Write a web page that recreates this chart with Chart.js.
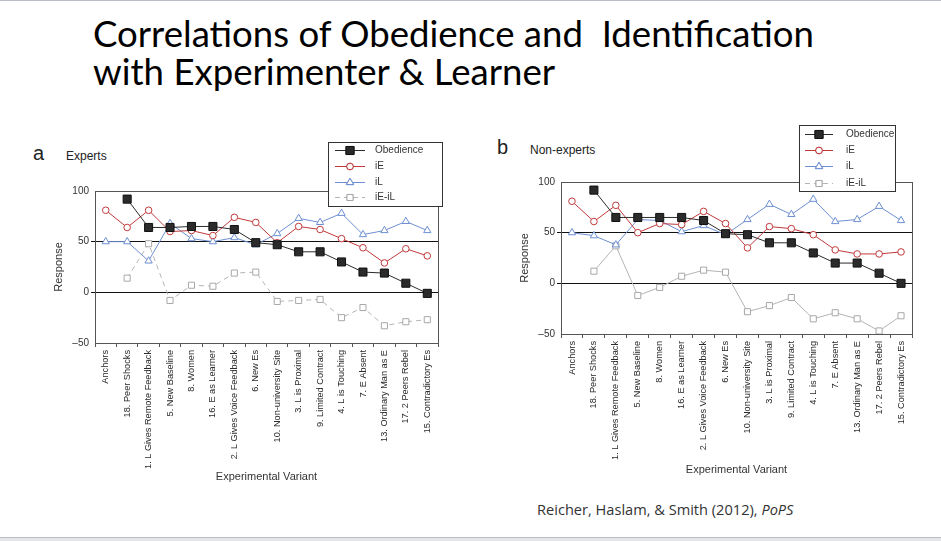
<!DOCTYPE html>
<html>
<head>
<meta charset="utf-8">
<script src="https://cdn.jsdelivr.net/npm/chart.js@4.4.1/dist/chart.umd.min.js"></script>
<style>
  body { margin: 0; background: #fff; width: 941px; height: 541px; position: relative; overflow: hidden; }
  .abs { position: absolute; white-space: nowrap; }
  #title { left: 93px; top: 14px; font-family: Lato, "Open Sans", sans-serif; font-size: 36.6px; line-height: 38px; color: #000; }
  .panel { font-family: "Liberation Sans Narrow", "Liberation Sans", Arial, sans-serif; color: #222; }
  .letter { font-family: "Liberation Sans", Arial, sans-serif; font-size: 20px; color: #222; }
  #cite { left: 537px; top: 499px; font-family: "Open Sans", "Noto Sans", sans-serif; font-size: 14.6px; color: #333; }
  canvas { position: absolute; }
  #topline { left: 0; top: 0; width: 941px; height: 1px; background: #b8bcc4; }
  #botline { left: 0; top: 537px; width: 941px; height: 4px; background: #e4e6ea; border-top: 1px solid #b8bcc4; }
</style>
</head>
<body>
<div id="topline" class="abs"></div>
<div id="title" class="abs">Correlations of Obedience and&nbsp; Identification<br>with Experimenter &amp; Learner</div>
<div class="abs letter" style="left:33px; top:142px;">a</div>
<div class="abs panel" style="left:66px; top:149px; font-size:12px;">Experts</div>
<div class="abs letter" style="left:497px; top:136px;">b</div>
<div class="abs panel" style="left:530px; top:143px; font-size:12px;">Non-experts</div>
<canvas id="chartA" width="410" height="360" style="left:45px; top:130px; width:410px; height:360px;"></canvas>
<canvas id="chartB" width="420" height="364" style="left:510px; top:115px; width:420px; height:364px;"></canvas>
<div id="cite" class="abs">Reicher, Haslam, &amp; Smith (2012), <i>PoPS</i></div>
<div id="botline" class="abs"></div>
<script>
// ---- data ----
const variants = [
  'Anchors', '18. Peer Shocks', '1. L Gives Remote Feedback', '5. New Baseline', '8. Women',
  '16. E as Learner', '2. L Gives Voice Feedback', '6. New Es', '10. Non-university Site',
  '3. L is Proximal', '9. Limited Contract', '4. L is Touching', '7. E Absent',
  '13. Ordinary Man as E', '17. 2 Peers Rebel', '15. Contradictory Es'
];
const yTicks = [-50, 0, 50, 100];
const seriesNames = ['Obedience', 'iE', 'iL', 'iE-iL'];

// Experts (panel a)
const expObedience = [null, 92, 64, 64, 65, 65, 62, 49, 47, 40, 40, 30, 20, 19, 9, -1];
const expIE        = [81, 64, 81, 60, 61, 56, 74, 69, 49, 65, 62, 53, 44, 29, 43, 36];
const expIL        = [50, 50, 31, 68, 53, 50, 54, 47, 58, 73, 69, 78, 57, 61, 70, 61];
const expDiff      = [null, 14, 48, -8, 7, 6, 19, 20, -9, -8, -7, -25, -15, -33, -29, -27];

// Non-experts (panel b)
const nonObedience = [null, 92, 65, 65, 65, 65, 62, 49, 48, 40, 40, 30, 20, 20, 10, 0];
const nonIE        = [81, 61, 77, 50, 59, 58, 71, 59, 35, 56, 54, 48, 33, 29, 29, 31];
const nonIL        = [50, 47, 38, 63, 62, 51, 57, 48, 63, 78, 68, 83, 61, 63, 76, 62];
const nonDiff      = [null, 12, 37, -12, -4, 7, 13, 11, -28, -22, -14, -35, -29, -35, -47, -32];

const colors = {
  obedience: '#2b2b2b',
  iE: '#c0393a',
  iL: '#6d8fd1',
  diff: '#b4b4b4'
};
const axisFont = "'Liberation Sans Narrow', 'Liberation Sans', Arial, sans-serif";

function makeDatasets(obed, ie, il, diff, diffDashed) {
  return [
    { label: seriesNames[0], data: obed, borderColor: colors.obedience, backgroundColor: colors.obedience,
      borderWidth: 1, pointStyle: 'rect', pointRadius: 5.7, pointBorderColor: '#111', pointBorderWidth: 1 },
    { label: seriesNames[1], data: ie, borderColor: colors.iE, backgroundColor: '#fff',
      borderWidth: 1, pointStyle: 'circle', pointRadius: 3.3, pointBorderColor: colors.iE, pointBorderWidth: 1 },
    { label: seriesNames[2], data: il, borderColor: colors.iL, backgroundColor: '#fff',
      borderWidth: 1, pointStyle: 'triangle', pointRadius: 4.2, pointBorderColor: colors.iL, pointBorderWidth: 1 },
    { label: seriesNames[3], data: diff, borderColor: colors.diff, backgroundColor: '#fff',
      borderWidth: 1, borderDash: diffDashed ? [5, 4] : [], pointStyle: 'rect', pointRadius: 4.3,
      pointBorderColor: '#a8a8a8', pointBorderWidth: 1 }
  ].map(d => Object.assign(d, { tension: 0, spanGaps: false, fill: false }));
}

// frame around the plot + boxed legend with line/marker samples
const framePlugin = {
  id: 'frame',
  beforeDatasetsDraw(chart) {
    const { ctx, chartArea: a } = chart;
    ctx.save();
    ctx.strokeStyle = '#555';
    ctx.lineWidth = 1;
    ctx.strokeRect(Math.round(a.left) + 0.5, Math.round(a.top) + 0.5, Math.round(a.right - a.left), Math.round(a.bottom - a.top));
    ctx.restore();
  },
  afterDraw(chart, args, opts) {
    const { ctx } = chart;
    const b = opts.box;
    ctx.save();
    ctx.fillStyle = '#fff';
    ctx.fillRect(b.x, b.y, b.w, b.h);
    ctx.strokeStyle = '#333';
    ctx.lineWidth = 1;
    ctx.strokeRect(b.x + 0.5, b.y + 0.5, b.w, b.h);
    ctx.font = '10px ' + axisFont;
    ctx.textBaseline = 'middle';
    chart.data.datasets.forEach((ds, i) => {
      const y = b.y + opts.rows[i];
      ctx.strokeStyle = ds.borderColor;
      ctx.setLineDash(i === 3 ? [5, 4] : []);
      ctx.beginPath();
      ctx.moveTo(b.x + opts.lineX0, y + 0.5);
      ctx.lineTo(b.x + opts.lineX1, y + 0.5);
      ctx.stroke();
      ctx.setLineDash([]);
      Chart.helpers.drawPoint(ctx, {
        pointStyle: ds.pointStyle, radius: ds.pointRadius, borderWidth: 1
      }, b.x + (opts.lineX0 + opts.lineX1) / 2, y + 0.5);
      ctx.fillStyle = ds.backgroundColor;
      ctx.strokeStyle = ds.pointBorderColor;
      ctx.fill();
      ctx.stroke();
      ctx.fillStyle = '#333';
      ctx.fillText(ds.label, b.x + opts.textX, y);
    });
    ctx.restore();
  }
};

function buildChart(id, datasets, layout) {
  return new Chart(document.getElementById(id), {
    type: 'line',
    data: { labels: variants, datasets: datasets },
    plugins: [framePlugin],
    options: {
      responsive: false,
      animation: false,
      layout: { padding: { top: layout.top, right: layout.right, left: layout.left, bottom: 0 } },
      plugins: {
        legend: { display: false },
        tooltip: { enabled: false },
        frame: { box: layout.legend, rows: layout.rows, lineX0: layout.lineX0, lineX1: layout.lineX1, textX: layout.textX }
      },
      scales: {
        x: {
          offset: true,
          afterFit(s) { s.height = layout.xHeight; },
          grid: { offset: true, drawOnChartArea: false, drawTicks: true, tickLength: 4, color: '#555' },
          border: { display: false },
          ticks: { autoSkip: false, maxRotation: 90, minRotation: 90, color: '#2a2a2a', padding: 3,
                   font: { family: axisFont, size: 9.2 } },
          title: { display: true, text: 'Experimental Variant', color: '#333',
                   font: { family: axisFont, size: 11 }, padding: { top: 4, bottom: layout.titlePad } }
        },
        y: {
          min: -50, max: 100,
          afterFit(s) { s.width = layout.yWidth; },
          afterBuildTicks(s) { s.ticks = yTicks.map(v => ({ value: v })); },
          grid: {
            drawTicks: true, tickLength: 4,
            color: ctx => (ctx.tick && (ctx.tick.value === 0 || ctx.tick.value === 50)) ? '#111' : 'rgba(0,0,0,0)',
            lineWidth: 1
          },
          border: { display: false },
          ticks: { color: '#333', padding: 2, font: { family: axisFont, size: 10 },
                   callback: v => (v < 0 ? '\u2013' + Math.abs(v) : String(v)) },
          title: { display: true, text: 'Response', color: '#333',
                   font: { family: axisFont, size: 11 }, padding: { top: 0, bottom: 4 } }
        }
      }
    }
  });
}

buildChart('chartA', makeDatasets(expObedience, expIE, expIL, expDiff, true), {
  top: 61, right: 17, left: 7, yWidth: 43, xHeight: 147, titlePad: 6,
  legend: { x: 283, y: 12, w: 114, h: 64 },
  rows: [8, 24, 40, 55], lineX0: 7, lineX1: 37, textX: 47
});

buildChart('chartB', makeDatasets(nonObedience, nonIE, nonIL, nonDiff, false), {
  top: 67, right: 18, left: 8, yWidth: 43, xHeight: 145, titlePad: 2,
  legend: { x: 289, y: 10, w: 96, h: 66 },
  rows: [9, 25, 41, 58], lineX0: 6, lineX1: 34, textX: 47
});
</script>
</body>
</html>
